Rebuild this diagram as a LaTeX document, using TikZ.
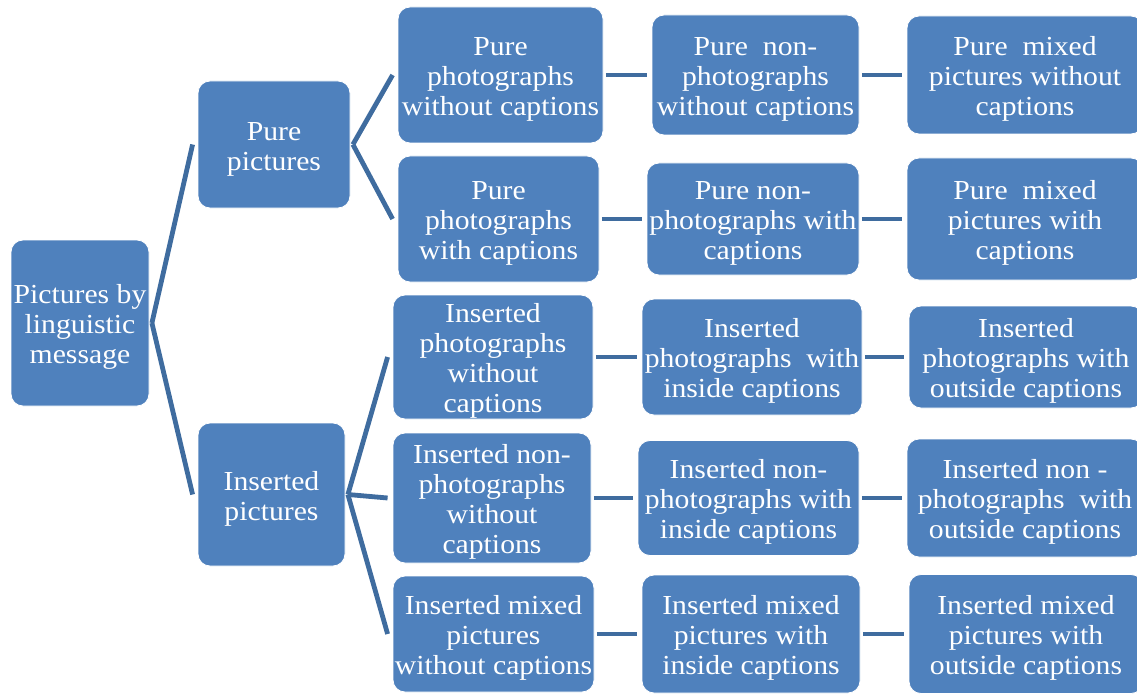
\documentclass[tikz,border=0pt]{standalone}
\usepackage{fontspec}
\setmainfont{Liberation Serif}[FakeStretch=1.08]
\definecolor{boxblue}{HTML}{4F81BD}
\definecolor{lineblue}{HTML}{3F6C9F}
\newcommand{\tl}{\rule{0pt}{27pt}}
\tikzset{
  box/.style={rectangle, rounded corners=12pt, fill=boxblue, draw=white, line width=0.8pt,
    text=white, align=center, inner sep=0pt, font=\fontsize{27.5}{30}\selectfont},
  conn/.style={draw=lineblue, line width=4.8pt}
}
\begin{document}
\begin{tikzpicture}[x=1pt,y=-1pt]
\useasboundingbox (0,0) rectangle (1137,695);
\clip (0,0) rectangle (1137,695);
% level 0
\node[box, minimum width=138pt, minimum height=166pt] (root) at (80,323) {\tl Pictures by\\linguistic\\message};
% level 1
\node[box, minimum width=152pt, minimum height=127pt] (pp) at (274,144.5) {\tl Pure\\pictures};
\node[box, minimum width=147pt, minimum height=143pt] (ip) at (271.5,494.5) {\tl Inserted\\pictures};
% level 2
\node[box, minimum width=205pt, minimum height=136pt] (ppwo) at (500.5,75) {\tl Pure\\photographs\\without captions};
\node[box, minimum width=201pt, minimum height=126pt] (ppw) at (498.5,219) {\tl Pure\\photographs\\with captions};
\node[box, minimum width=200pt, minimum height=124pt] (ipwo) at (493,357) {\tl Inserted\\photographs\\without\\captions};
\node[box, minimum width=198pt, minimum height=130pt] (inpwo) at (492,498) {\tl Inserted non-\\photographs\\without\\captions};
\node[box, minimum width=201pt, minimum height=116pt] (imwo) at (493.5,634) {\tl Inserted mixed\\pictures\\without captions};
% level 3
\node[box, minimum width=207pt, minimum height=120pt] (pnpwo) at (755.5,75) {\tl Pure\ \ non-\\photographs\\without captions};
\node[box, minimum width=212pt, minimum height=112pt] (pnpw) at (753,219) {\tl Pure non-\\photographs with\\captions};
\node[box, minimum width=220pt, minimum height=116pt] (ipwi) at (752,357) {\tl Inserted\\photographs\ \ with\\inside captions};
\node[box, minimum width=221pt, minimum height=115pt] (inpwi) at (748.5,498) {\tl Inserted non-\\photographs with\\inside captions};
\node[box, minimum width=218pt, minimum height=118pt] (imwi) at (751,634) {\tl Inserted mixed\\pictures with\\inside captions};
% level 4
\node[box, minimum width=236pt, minimum height=118pt] (pmwo) at (1025,75) {\tl Pure\ \ mixed\\pictures without\\captions};
\node[box, minimum width=236pt, minimum height=122pt] (pmw) at (1025,219) {\tl Pure\ \ mixed\\pictures with\\captions};
\node[box, minimum width=234pt, minimum height=102pt] (ipo) at (1026,357) {\tl Inserted\\photographs with\\outside captions};
\node[box, minimum width=236pt, minimum height=118pt] (inpo) at (1025,498) {\tl Inserted non -\\photographs\ \ with\\outside captions};
\node[box, minimum width=234pt, minimum height=119pt] (imo) at (1026,634) {\tl Inserted mixed\\pictures with\\outside captions};
% connectors
\foreach \a/\b in {root/pp, root/ip, pp/ppwo, pp/ppw, ip/ipwo, ip/inpwo, ip/imwo,
  ppwo/pnpwo, ppw/pnpw, ipwo/ipwi, inpwo/inpwi, imwo/imwi,
  pnpwo/pmwo, pnpw/pmw, ipwi/ipo, inpwi/inpo, imwi/imo}
  \draw[conn] ([xshift=2.5pt]\a.east) -- ([xshift=-5pt]\b.west);
\end{tikzpicture}
\end{document}
